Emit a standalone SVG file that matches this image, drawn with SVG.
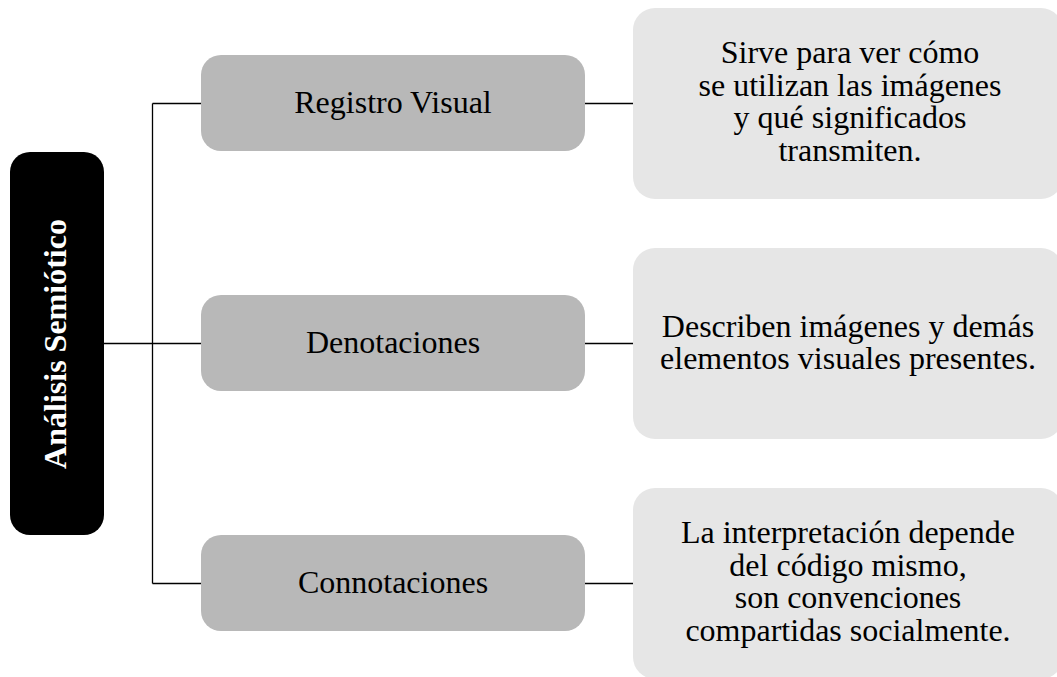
<svg xmlns="http://www.w3.org/2000/svg" width="1057" height="677" viewBox="0 0 1057 677">
<style>
.t{font-family:"Liberation Serif","Times New Roman",serif;font-size:32px;fill:#000;text-anchor:middle}
.mid{fill:#b8b8b8}
.lt{fill:#e6e6e6}
.c{stroke:#000;stroke-width:1.3;fill:none}
</style>
<rect width="1057" height="677" fill="#fff"/>
<g id="connectors">
<path class="c" d="M104 343.5H201M152.5 103.5V583.5M152.5 103.5H201M152.5 583.5H201M585 103.5H633M585 343.5H633M585 583.5H633"/>
</g>
<g id="root">
<rect x="10" y="152" width="94" height="383" rx="20" fill="#000"/>
<text class="t" transform="translate(66 344) rotate(-90)" style="fill:#fff;font-weight:bold">Análisis Semiótico</text>
</g>
<g id="registro">
<rect class="mid" x="201" y="55" width="384" height="96" rx="20"/>
<text class="t" x="393" y="113">Registro Visual</text>
</g>
<g id="denotaciones">
<rect class="mid" x="201" y="295" width="384" height="96" rx="20"/>
<text class="t" x="393" y="353">Denotaciones</text>
</g>
<g id="connotaciones">
<rect class="mid" x="201" y="535" width="384" height="96" rx="20"/>
<text class="t" x="393" y="593">Connotaciones</text>
</g>
<g id="desc1">
<rect class="lt" x="633" y="8" width="430" height="191" rx="22"/>
<text class="t"><tspan x="850" y="63">Sirve para ver cómo</tspan><tspan x="850" y="96">se utilizan las imágenes</tspan><tspan x="850" y="128">y qué significados</tspan><tspan x="850" y="161">transmiten.</tspan></text>
</g>
<g id="desc2">
<rect class="lt" x="633" y="248" width="430" height="191" rx="22"/>
<text class="t"><tspan x="848" y="337">Describen imágenes y demás</tspan><tspan x="848" y="369">elementos visuales presentes.</tspan></text>
</g>
<g id="desc3">
<rect class="lt" x="633" y="488" width="430" height="191" rx="22"/>
<text class="t"><tspan x="848" y="543">La interpretación depende</tspan><tspan x="848" y="576">del código mismo,</tspan><tspan x="848" y="608">son convenciones</tspan><tspan x="848" y="641">compartidas socialmente.</tspan></text>
</g>
</svg>
